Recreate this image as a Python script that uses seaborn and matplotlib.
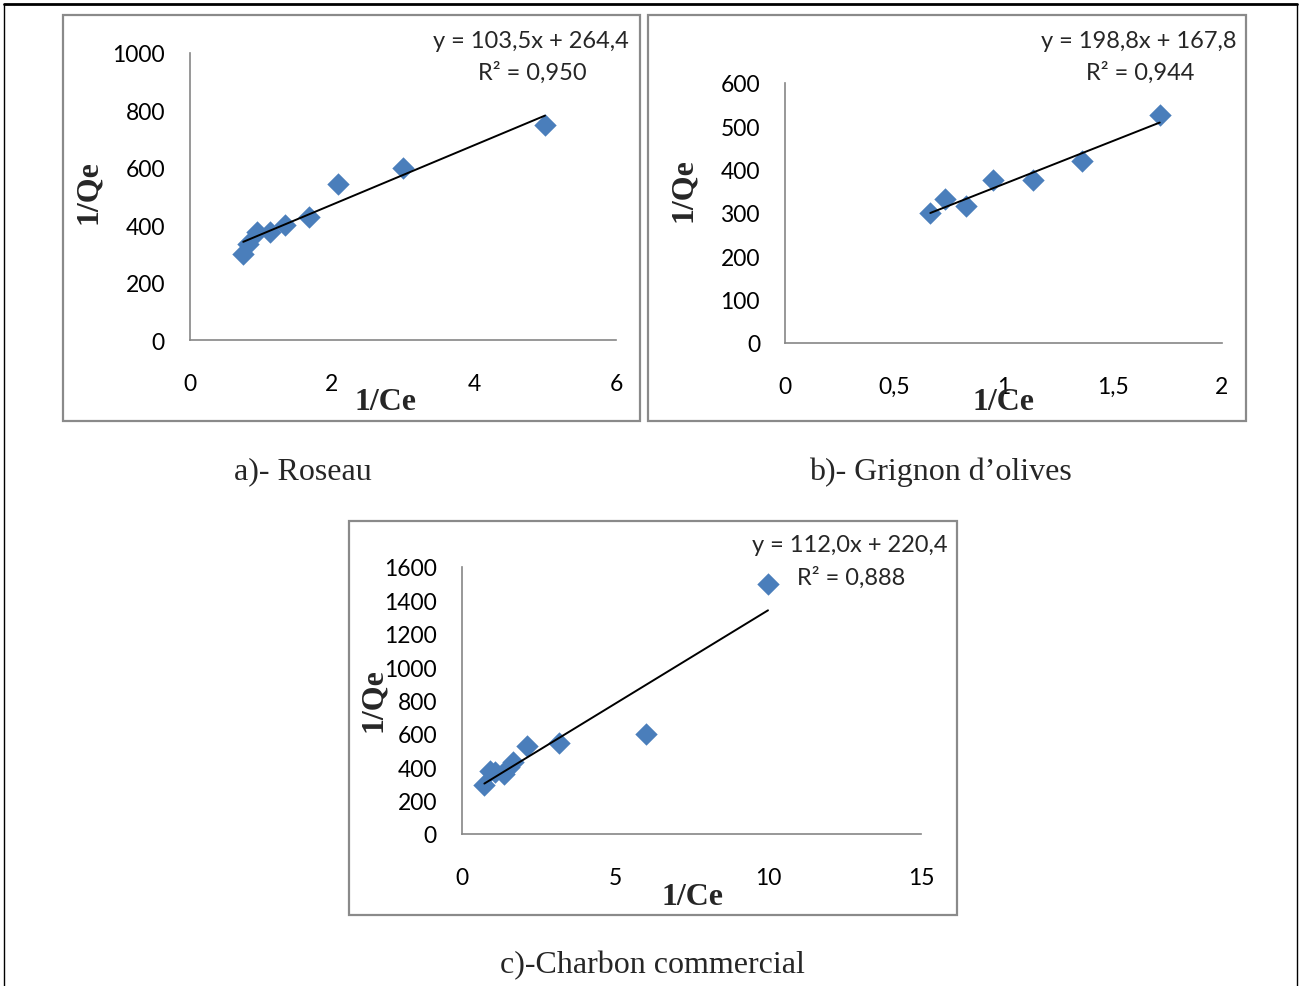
import numpy as np
import pandas as pd
import matplotlib
matplotlib.use("Agg")
import matplotlib.pyplot as plt
import seaborn as sns
from matplotlib.patches import Rectangle
from matplotlib.lines import Line2D

# ---------------- data ----------------
roseau_x = [0.75, 0.82, 0.94, 1.12, 1.34, 1.68, 2.08, 3.00, 5.00]
roseau_y = [300, 333, 375, 375, 400, 428, 545, 600, 750]
roseau_slope, roseau_intercept = 103.5, 264.4
roseau_eq = ["y = 103,5x + 264,4", "R² = 0,950"]

grignon_x = [0.665, 0.73, 0.83, 0.95, 1.135, 1.36, 1.715]
grignon_y = [300, 333, 316, 376, 376, 420, 527]
grignon_slope, grignon_intercept = 198.8, 167.8
grignon_eq = ["y = 198,8x + 167,8", "R² = 0,944"]

charbon_x = [0.73, 0.91, 1.07, 1.36, 1.53, 1.68, 2.11, 3.16, 6.00, 10.00]
charbon_y = [295, 376, 370, 362, 402, 430, 525, 545, 600, 1500]
charbon_slope, charbon_intercept = 112.0, 220.4
charbon_eq = ["y = 112,0x + 220,4", "R² = 0,888"]

xticks_a = [0, 2, 4, 6]
xticklabels_a = ["0", "2", "4", "6"]
yticks_a = [0, 200, 400, 600, 800, 1000]
xticks_b = [0, 0.5, 1, 1.5, 2]
xticklabels_b = ["0", "0,5", "1", "1,5", "2"]
yticks_b = [0, 100, 200, 300, 400, 500, 600]
xticks_c = [0, 5, 10, 15]
xticklabels_c = ["0", "5", "10", "15"]
yticks_c = [0, 200, 400, 600, 800, 1000, 1200, 1400, 1600]

captions = ["a)- Roseau", "b)- Grignon d\u2019olives", "c)-Charbon commercial"]
xlabel_text = "1/Ce"
ylabel_text = "1/Qe"

# ---------------- style ----------------
sns.set_style("white")
plt.rcParams["font.family"] = ["Lato", "DejaVu Sans"]

W, H = 1301, 987
fig = plt.figure(figsize=(W / 100, H / 100), dpi=100)
fig.patch.set_facecolor("white")

GRAY = "#868686"
BLUE = "#4A7EBB"
SERIF = ["Liberation Serif", "DejaVu Serif"]


def fx(px):
    return px / W


def fy(py):
    return 1 - py / H


def add_ax(x0, x1, ytop, ybot):
    return fig.add_axes([fx(x0), fy(ybot), (x1 - x0) / W, (ybot - ytop) / H])


def draw_box(x0, x1, ytop, ybot):
    fig.add_artist(Rectangle((fx(x0), fy(ybot)), (x1 - x0) / W, (ybot - ytop) / H,
                             transform=fig.transFigure, fill=False,
                             edgecolor="#8a8a8a", linewidth=1.6, zorder=0))


def panel(ax, xs, ys, slope, intercept, xlim, xticks, xtl, ylim, yticks,
          eq, eq_pos, xlab_pos, ylab_pos):
    df = pd.DataFrame({"x": xs, "y": ys})
    sns.scatterplot(data=df, x="x", y="y", marker="D", s=130, color=BLUE,
                    linewidth=0, ax=ax, zorder=3)
    xfit = np.array([min(xs), max(xs)])
    fit = pd.DataFrame({"x": xfit, "y": slope * xfit + intercept})
    sns.lineplot(data=fit, x="x", y="y", color="black", linewidth=1.4,
                 ax=ax, zorder=4)
    ax.set_xlim(*xlim)
    ax.set_ylim(*ylim)
    ax.set_xticks(xticks)
    ax.set_xticklabels(xtl)
    ax.set_yticks(yticks)
    ax.set_yticklabels([str(v) for v in yticks])
    for s in ["top", "right"]:
        ax.spines[s].set_visible(False)
    for s in ["left", "bottom"]:
        ax.spines[s].set_color(GRAY)
        ax.spines[s].set_linewidth(1.2)
    ax.tick_params(axis="both", direction="out", length=5, width=1.1,
                   color=GRAY, labelsize=16.5, labelcolor="black")
    ax.tick_params(axis="x", pad=19)
    ax.tick_params(axis="y", pad=13)
    ax.set_facecolor("none")
    ax.set_xlabel(xlabel_text, fontfamily=SERIF, fontweight="bold", fontsize=23)
    ax.set_ylabel(ylabel_text, fontfamily=SERIF, fontweight="bold", fontsize=23)
    ax.xaxis.set_label_coords(fx(xlab_pos[0]), fy(xlab_pos[1]), transform=fig.transFigure)
    ax.yaxis.set_label_coords(fx(ylab_pos[0]), fy(ylab_pos[1]), transform=fig.transFigure)
    ax.xaxis.label.set_va("center")
    ax.yaxis.label.set_va("center")
    ax.yaxis.label.set_ha("center")
    fig.text(fx(eq_pos[0]), fy(eq_pos[1]), eq[0], ha="center", va="center", fontsize=17)
    fig.text(fx(eq_pos[0] + 1), fy(eq_pos[1] + 32), eq[1], ha="center", va="center", fontsize=17)


# panel boxes
draw_box(63, 640, 16, 422)
draw_box(648, 1246, 16, 422)
draw_box(349, 957, 522, 916)

# outer frame
fig.add_artist(Line2D([fx(4), fx(1297)], [fy(5), fy(5)], transform=fig.transFigure,
                      color="black", linewidth=2.0))
fig.add_artist(Line2D([fx(4), fx(4)], [fy(5), fy(987)], transform=fig.transFigure,
                      color="black", linewidth=1.0))
fig.add_artist(Line2D([fx(1297), fx(1297)], [fy(5), fy(987)], transform=fig.transFigure,
                      color="black", linewidth=1.0))

ax_a = add_ax(190, 616, 54, 341)
panel(ax_a, roseau_x, roseau_y, roseau_slope, roseau_intercept, (0, 6), xticks_a,
      xticklabels_a, (0, 1000), yticks_a, roseau_eq, (531, 41), (385, 402), (88, 192))

ax_b = add_ax(785, 1222, 84, 344)
panel(ax_b, grignon_x, grignon_y, grignon_slope, grignon_intercept, (0, 2), xticks_b,
      xticklabels_b, (0, 600), yticks_b, grignon_eq, (1139, 41), (1004, 403), (683, 190))

ax_c = add_ax(462, 921, 568, 835)
panel(ax_c, charbon_x, charbon_y, charbon_slope, charbon_intercept, (0, 15), xticks_c,
      xticklabels_c, (0, 1600), yticks_c, charbon_eq, (850, 546), (692, 898), (373, 700))

# captions
fig.text(fx(303), fy(472), captions[0], ha="center", va="center",
         fontfamily=SERIF, fontsize=23)
fig.text(fx(940), fy(472), captions[1], ha="center", va="center",
         fontfamily=SERIF, fontsize=23)
fig.text(fx(652), fy(966), captions[2], ha="center", va="center",
         fontfamily=SERIF, fontsize=23)

fig.savefig("out.png", dpi=100, facecolor="white")
